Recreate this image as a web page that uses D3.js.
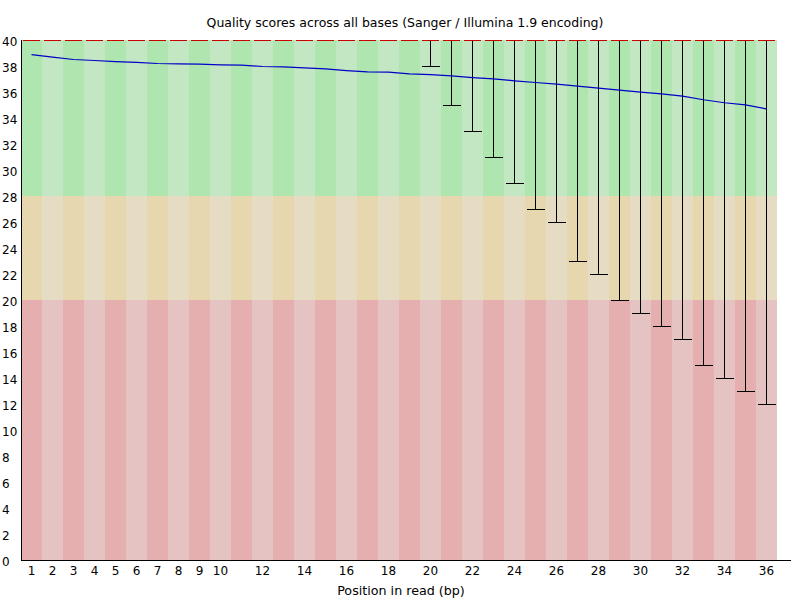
<!DOCTYPE html>
<html>
<head>
<meta charset="utf-8">
<script src="https://cdn.jsdelivr.net/npm/d3@7"></script>
<style>
  body { margin: 0; background: #fff; }
  text { font-family: "DejaVu Sans", sans-serif; font-size: 12px; fill: #000; }
</style>
</head>
<body>
<svg id="chart" width="800" height="600"></svg>
<script>
const positions = d3.range(1, 37);
const meanQual = [38.92, 38.72, 38.54, 38.46, 38.38, 38.31, 38.23, 38.20, 38.18, 38.13,
    38.10, 38.00, 37.97, 37.90, 37.82, 37.69, 37.59, 37.56, 37.44, 37.38,
    37.28, 37.15, 37.05, 36.90, 36.77, 36.64, 36.49, 36.33, 36.18, 36.03,
    35.90, 35.72, 35.44, 35.21, 35.05, 34.74];
const medianQual = positions.map(() => 40);
const lowerWhisker = [40, 40, 40, 40, 40, 40, 40, 40, 40, 40,
    40, 40, 40, 40, 40, 40, 40, 40, 40, 38,
    35, 33, 31, 29, 27, 26, 23, 22, 20, 19,
    18, 17, 15, 14, 13, 12];
const upperWhisker = positions.map(() => 40);
const xTickLabels = [1, 2, 3, 4, 5, 6, 7, 8, 9, 10, 12, 14, 16, 18, 20, 22, 24, 26, 28, 30, 32, 34, 36];
const yTicks = d3.range(0, 41, 2);
const zones = [
    {from: 28, to: 40, dark: '#afe6af', light: '#c3e6c3'},
    {from: 20, to: 28, dark: '#e6d7af', light: '#e6dcc3'},
    {from: 0, to: 20, dark: '#e6afaf', light: '#e6c3c3'}
];

const svg = d3.select('#chart');

const x = d3.scaleBand().domain(positions).range([21, 777]);
const y = d3.scaleLinear().domain([0, 40]).range([560, 40]);

// background stripes
zones.forEach(z => {
    svg.append('g').selectAll('rect')
        .data(positions)
        .enter()
        .append('rect')
        .attr('x', d => x(d))
        .attr('y', y(z.to))
        .attr('width', x.bandwidth())
        .attr('height', y(z.from) - y(z.to))
        .attr('fill', d => d % 2 === 1 ? z.dark : z.light);
});

// whiskers
const boxes = svg.append('g').selectAll('g')
    .data(positions.map((p, i) => ({p, lo: lowerWhisker[i], hi: upperWhisker[i], med: medianQual[i]})))
    .enter()
    .append('g')
    .attr('shape-rendering', 'crispEdges');

boxes.filter(d => d.lo < d.hi)
    .append('line')
    .attr('x1', d => x(d.p) + x.bandwidth() / 2)
    .attr('x2', d => x(d.p) + x.bandwidth() / 2)
    .attr('y1', d => y(d.hi))
    .attr('y2', d => y(d.lo))
    .attr('stroke', '#000');

boxes.filter(d => d.lo < d.hi)
    .append('line')
    .attr('x1', d => x(d.p) + 2)
    .attr('x2', d => x(d.p) + 20)
    .attr('y1', d => y(d.lo) + 0.5)
    .attr('y2', d => y(d.lo) + 0.5)
    .attr('stroke', '#000');

// median
boxes.append('line')
    .attr('x1', d => x(d.p) + 2)
    .attr('x2', d => x(d.p) + 19)
    .attr('y1', d => y(d.med) + 0.5)
    .attr('y2', d => y(d.med) + 0.5)
    .attr('stroke', '#c80000');

// mean line
const line = d3.line()
    .x((d, i) => x(positions[i]) + x.bandwidth() / 2)
    .y(d => y(d) + 0.5);

svg.append('path')
    .datum(meanQual)
    .attr('d', line)
    .attr('fill', 'none')
    .attr('stroke', '#0000c8')
    .attr('stroke-width', 1.2);

// axes
const yAxis = svg.append('g')
    .attr('transform', 'translate(21.5,0)')
    .call(d3.axisLeft(y).tickValues(yTicks).tickSize(0).tickSizeOuter(0));
yAxis.select('.domain').remove();
yAxis.selectAll('text')
    .attr('x', -19.5)
    .attr('dy', '0.42em')
    .style('text-anchor', 'start')
    .style('font-family', '"DejaVu Sans", sans-serif')
    .style('font-size', '12px');

const xAxis = svg.append('g')
    .attr('transform', 'translate(0,560.5)')
    .call(d3.axisBottom(x).tickValues(xTickLabels).tickSize(0).tickPadding(6));
xAxis.select('.domain').remove();
xAxis.selectAll('text')
    .style('font-family', '"DejaVu Sans", sans-serif')
    .style('font-size', '12px');

svg.append('line')
    .attr('x1', 21.5).attr('x2', 21.5)
    .attr('y1', 40).attr('y2', 561)
    .attr('stroke', '#000');
svg.append('line')
    .attr('x1', 21).attr('x2', 791)
    .attr('y1', 560.5).attr('y2', 560.5)
    .attr('stroke', '#000');

// titles
svg.append('text')
    .attr('x', 405)
    .attr('y', 27)
    .attr('text-anchor', 'middle')
    .style('font-size', '12.5px')
    .text('Quality scores across all bases (Sanger / Illumina 1.9 encoding)');

svg.append('text')
    .attr('x', 401)
    .attr('y', 595)
    .attr('text-anchor', 'middle')
    .style('font-size', '12.7px')
    .text('Position in read (bp)');
</script>
</body>
</html>
